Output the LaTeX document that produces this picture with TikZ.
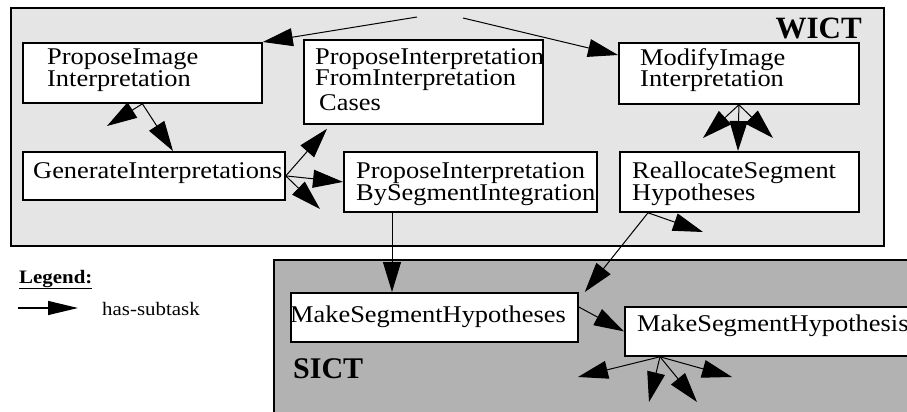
\documentclass[tikz,border=0pt]{standalone}
\usepackage{fontspec}
\setmainfont{Liberation Serif}
\newfontfamily\taskfont{Liberation Serif}[FakeStretch=1.1]
\usetikzlibrary{arrows.meta,calc}
\definecolor{wictgray}{gray}{0.9}
\definecolor{sictgray}{gray}{0.7}

\begin{document}
\begin{tikzpicture}[x=1pt,y=-1pt,
  group/.style={draw, line width=1.8pt, inner sep=0pt, anchor=north west},
  task/.style={draw, line width=1.8pt, fill=white, inner sep=0pt, anchor=north west},
  txt/.style={anchor=base west, inner sep=0pt, font=\taskfont\fontsize{24}{24}\selectfont},
  title/.style={inner sep=0pt, font=\bfseries\fontsize{31}{31}\selectfont},
  sub/.style={line width=1pt, -{Triangle[length=30pt,width=18pt]}}]

\useasboundingbox (0,0) rectangle (907,412);
\clip (0,0) rectangle (907,412);

% task structure containers
\node[group, fill=wictgray, minimum width=873pt, minimum height=238pt] (wict) at (10,7) {};
\node[group, fill=sictgray, minimum width=650pt, minimum height=170pt] (sict) at (273,259) {};
\node[title, anchor=base east] (wictlbl) at (862,39) {WICT};
\node[title, anchor=base west, font=\bfseries\fontsize{30}{30}\selectfont] (sictlbl) at (293,378) {SICT};

% task boxes
\node[task, minimum width=239pt, minimum height=60pt] (pii) at (22,42) {};
\node[task, minimum width=239pt, minimum height=84pt] (pfi) at (303,39) {};
\node[task, minimum width=262pt, minimum height=48pt] (gen) at (22,151) {};
\node[task, minimum width=253pt, minimum height=60pt] (bsi) at (343,151) {};
\node[task, minimum width=240pt, minimum height=61pt] (mii) at (618,42) {};
\node[task, minimum width=239pt, minimum height=60pt] (ras) at (619,151) {};
\node[task, minimum width=287pt, minimum height=49pt] (msh) at (290,292) {};
\node[task, minimum width=300pt, minimum height=49pt] (msi) at (624,306) {};

% task names
\node[txt] (pii1) at (47,65) {ProposeImage};
\node[txt] (pii2) at (47,86) {Interpretation};
\node[txt] (pfi1) at (315,65) {ProposeInterpretation};
\node[txt] (pfi2) at (315,85) {FromInterpretation};
\node[txt] (pfi3) at (319,110) {Cases};
\node[txt] (gen1) at (33,178) {GenerateInterpretations};
\node[txt] (bsi1) at (356,178) {ProposeInterpretation};
\node[txt] (bsi2) at (356,200) {BySegmentIntegration};
\node[txt] (mii1) at (640,66) {ModifyImage};
\node[txt] (mii2) at (640,86) {Interpretation};
\node[txt] (ras1) at (632,178) {ReallocateSegment};
\node[txt] (ras2) at (632,200) {Hypotheses};
\node[txt] (msh1) at (290,322) {MakeSegmentHypotheses};
\node[txt] (msi1) at (637,331) {MakeSegmentHypothesis};

% free ends of subtask links
\coordinate (top1) at (417,17);
\coordinate (top2) at (463,18);
\coordinate (f1) at (107,126);
\coordinate (f2) at (320,209);
\coordinate (f3) at (703,138);
\coordinate (f4) at (773,138);
\coordinate (f5) at (703,232);
\coordinate (g1) at (578,377);
\coordinate (g2) at (649,402);
\coordinate (g3) at (697,402);
\coordinate (g4) at (732,377);

% has-subtask links
\draw[sub] (top1) -- (pii.north east);
\draw[sub] (top2) -- ($(mii.north west)+(0,13)$);
\draw[sub] (pii.south) -- (f1);
\draw[sub] (pii.south) -- ($(gen.north west)+(151,0)$);
\draw[sub] (gen.east) -- ($(pfi.south west)+(24,4)$);
\draw[sub] (gen.east) -- (bsi.west);
\draw[sub] (gen.east) -- (f2);
\draw[sub] ($(bsi.south west)+(49,0)$) -- ($(msh.north west)+(102,0)$);
\draw[sub] (mii.south) -- (f3);
\draw[sub] (mii.south) -- ($(ras.north west)+(119,0)$);
\draw[sub] (mii.south) -- (f4);
\draw[sub] ($(ras.south west)+(29,0)$) -- (f5);
\draw[sub] ($(ras.south west)+(29,0)$) -- ($(msh.north east)+(6,0)$);
\draw[sub] ($(msh.north east)+(0,15)$) -- (msi.west);
\draw[sub] ($(msi.south west)+(36,0)$) -- (g1);
\draw[sub] ($(msi.south west)+(36,0)$) -- (g2);
\draw[sub] ($(msi.south west)+(36,0)$) -- (g3);
\draw[sub] ($(msi.south west)+(36,0)$) -- (g4);

% legend
\node[anchor=base west, inner sep=0pt, font=\taskfont\bfseries\fontsize{19}{19}\selectfont] (legend) at (19,283) {\underline{Legend:}};
\coordinate (l0) at (18,308);
\coordinate (l1) at (78,308);
\draw[line width=1.2pt, -{Triangle[length=30pt,width=14pt]}] (l0) -- (l1);
\node[anchor=base west, inner sep=0pt, font=\taskfont\fontsize{19}{19}\selectfont] (hs) at (102,315) {has-subtask};
\end{tikzpicture}
\end{document}
